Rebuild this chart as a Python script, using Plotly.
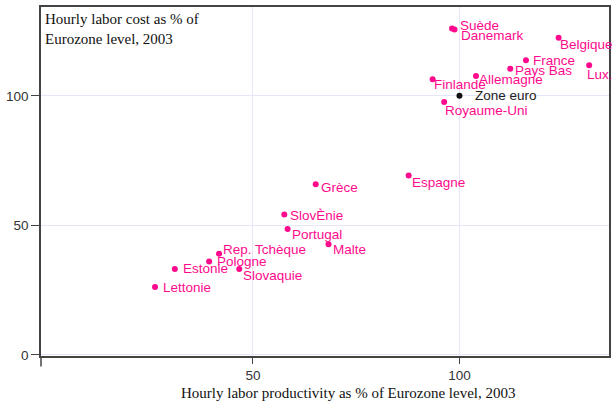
import plotly.graph_objects as go

countries = ["Suède", "Danemark", "Belgique", "France", "Pays Bas", "Lux.", "Allemagne",
             "Finlande", "Royaume-Uni", "Espagne", "Grèce", "SlovÈnie", "Portugal", "Malte",
             "Rep. Tchèque", "Pologne", "Slovaquie", "Estonie", "Lettonie"]
productivity = [98.2, 98.8, 124.0, 116.1, 112.3, 131.4, 104.0,
                93.5, 96.3, 87.7, 65.2, 57.6, 58.4, 68.3,
                41.8, 39.4, 46.7, 31.1, 26.3]
labor_cost = [126.0, 125.6, 122.4, 113.7, 110.5, 111.8, 107.7,
              106.4, 97.6, 69.3, 65.9, 54.2, 48.6, 42.7,
              39.1, 36.1, 33.2, 33.2, 26.2]

ref_name = ["Zone euro"]
ref_productivity = [100]
ref_labor_cost = [100]

x_ticks = [50, 100]
y_ticks = [0, 50, 100]

PINK = "#ff0a8c"

# label offsets in pixels (dx right, dy down)
label_offsets = {
    "Suède": (6, -3), "Danemark": (4, 6), "Belgique": (-1, 7), "France": (5, 0),
    "Pays Bas": (3, 2), "Lux.": (-4, 9), "Allemagne": (1, 4), "Finlande": (-1, 5),
    "Royaume-Uni": (-1, 8), "Espagne": (1, 7), "Grèce": (3, 3), "SlovÈnie": (4, 1),
    "Portugal": (2, 5), "Malte": (2, 5), "Rep. Tchèque": (2, -4), "Pologne": (6, 0),
    "Slovaquie": (2, 7), "Estonie": (6, 0), "Lettonie": (6, 0), "Zone euro": (14, 0),
}

fig = go.Figure()
fig.add_trace(go.Scatter(x=productivity, y=labor_cost, mode="markers",
                         marker=dict(color=PINK, size=6), hoverinfo="text", text=countries))
fig.add_trace(go.Scatter(x=ref_productivity, y=ref_labor_cost, mode="markers",
                         marker=dict(color="#111111", size=6), hoverinfo="text", text=ref_name))

annotations = []
for name, xv, yv in list(zip(countries, productivity, labor_cost)) + list(zip(ref_name, ref_productivity, ref_labor_cost)):
    dx, dy = label_offsets[name]
    annotations.append(dict(x=xv, y=yv, text=name, showarrow=False, xanchor="left", yanchor="middle",
                            xshift=dx, yshift=-dy,
                            font=dict(family="Liberation Sans, Arial, sans-serif", size=13.5,
                                      color="#222222" if name == "Zone euro" else PINK)))

annotations.append(dict(xref="paper", yref="paper", x=0, y=1, xanchor="left", yanchor="top",
                        xshift=2, yshift=-2, align="left", showarrow=False,
                        text="Hourly labor cost as % of<br>Eurozone level, 2003",
                        font=dict(family="Liberation Serif, Times New Roman, serif", size=15, color="#111111")))
annotations.append(dict(xref="paper", yref="paper", x=0.5415, y=0, xanchor="center", yanchor="middle",
                        yshift=-37, showarrow=False,
                        text="Hourly labor productivity as % of Eurozone level, 2003",
                        font=dict(family="Liberation Serif, Times New Roman, serif", size=15, color="#111111")))

fig.update_layout(
    width=612, height=402,
    margin=dict(l=41, r=3, t=7, b=46),
    paper_bgcolor="white", plot_bgcolor="white",
    showlegend=False,
    annotations=annotations,
    shapes=[dict(type="line", xref="paper", yref="paper", x0=0, x1=0, y0=0, y1=-0.03,
                 line=dict(color="#444444", width=1.5))],
)
fig.update_xaxes(range=[-1.3, 136.2], tickvals=x_ticks, ticks="outside", ticklen=6, tickcolor="#444444",
                 showline=True, linecolor="#444444", linewidth=1.5, mirror=True, automargin=False,
                 showgrid=True, gridcolor="#e6e6fa", gridwidth=1, zeroline=False,
                 tickfont=dict(family="Liberation Sans, Arial, sans-serif", size=13.5, color="#333333"))
fig.update_yaxes(range=[-0.4, 134.3], tickvals=y_ticks, ticks="outside", ticklen=8, tickcolor="#444444",
                 showline=True, linecolor="#444444", linewidth=1.5, mirror=True, automargin=False,
                 showgrid=True, gridcolor="#e6e6fa", gridwidth=1, zeroline=False,
                 tickfont=dict(family="Liberation Sans, Arial, sans-serif", size=13.5, color="#333333"))

fig.write_html("out.html", config={"displayModeBar": False},
               post_script="document.body.style.margin='0';document.body.style.overflow='hidden';")
